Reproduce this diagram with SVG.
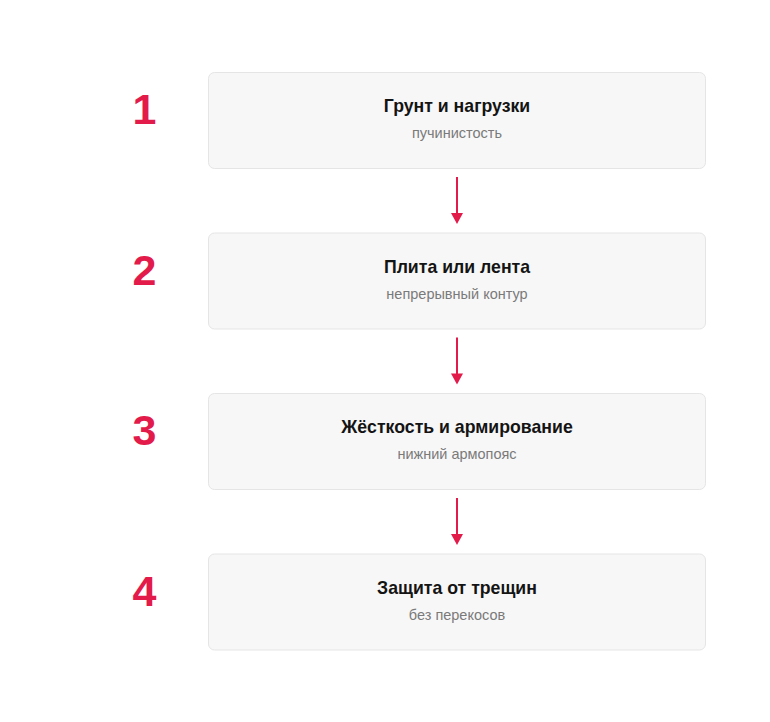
<svg xmlns="http://www.w3.org/2000/svg" width="770" height="722" viewBox="0 0 770 722">
<defs>
<style>
.box{fill:#f7f7f7;stroke:#e5e5e5;stroke-width:1}
.num{font-family:"Liberation Sans",Arial,sans-serif;font-weight:bold;font-size:43px;fill:#e31b4b;text-anchor:middle}
.t{font-family:"Liberation Sans",Arial,sans-serif;font-weight:bold;font-size:17.7px;fill:#141414;text-anchor:middle}
.s{font-family:"Liberation Sans",Arial,sans-serif;font-size:14.5px;fill:#7a7a7a;text-anchor:middle}
.c{stroke:#e31b4b;stroke-width:2;fill:none}
.h{fill:#e31b4b}
</style>
</defs>
<rect width="770" height="722" fill="#ffffff"/>
<g id="n1">
<text class="num" x="144.5" y="124">1</text>
<rect class="box" x="208.5" y="72.5" width="497" height="96" rx="6"/>
<text class="t" x="457" y="112">Грунт и нагрузки</text>
<text class="s" x="457" y="138">пучинистость</text>
</g>
<g id="n2">
<text class="num" x="144.5" y="284.5">2</text>
<rect class="box" x="208.5" y="233" width="497" height="96" rx="6"/>
<text class="t" x="457" y="272.5">Плита или лента</text>
<text class="s" x="457" y="298.5">непрерывный контур</text>
</g>
<g id="n3">
<text class="num" x="144.5" y="445">3</text>
<rect class="box" x="208.5" y="393.5" width="497" height="96" rx="6"/>
<text class="t" x="457" y="433">Жёсткость и армирование</text>
<text class="s" x="457" y="459">нижний армопояс</text>
</g>
<g id="n4">
<text class="num" x="144.5" y="605.5">4</text>
<rect class="box" x="208.5" y="554" width="497" height="96" rx="6"/>
<text class="t" x="457" y="593.5">Защита от трещин</text>
<text class="s" x="457" y="619.5">без перекосов</text>
</g>
<g id="connectors">
<line class="c" x1="457" y1="177" x2="457" y2="214"/>
<polygon class="h" points="451,213 463,213 457,224"/>
<line class="c" x1="457" y1="337.5" x2="457" y2="374.5"/>
<polygon class="h" points="451,373.5 463,373.5 457,384.5"/>
<line class="c" x1="457" y1="498" x2="457" y2="535"/>
<polygon class="h" points="451,534 463,534 457,545"/>
</g>
</svg>
